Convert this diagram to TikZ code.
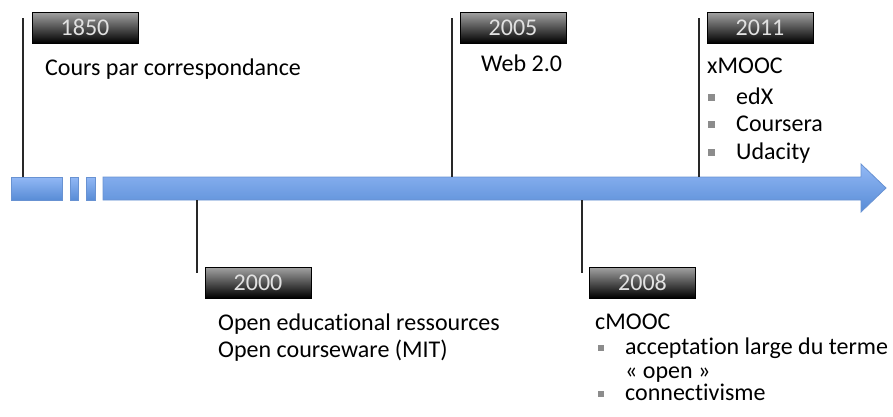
\documentclass[tikz,border=0pt]{standalone}
\usepackage{fontspec}
\setmainfont[Ligatures=NoCommon]{Carlito}
\definecolor{bartop}{RGB}{146,184,245}
\definecolor{barbot}{RGB}{88,140,214}
\definecolor{barline}{RGB}{104,146,210}
\definecolor{yeartxt}{RGB}{225,225,225}
\definecolor{bulletgray}{RGB}{140,140,140}
\definecolor{tickline}{RGB}{40,40,40}
\tikzset{
  yearbox/.style={draw=black, line width=0.8pt, top color=black!36, bottom color=black,
    minimum width=106pt, minimum height=31pt, inner sep=0pt,
    text=yeartxt, font=\fontsize{24}{28}\selectfont},
  bigtxt/.style={anchor=base west, inner sep=0pt, font=\fontsize{24}{28}\selectfont},
  smalltxt/.style={anchor=base west, inner sep=0pt, font=\fontsize{24}{28}\selectfont},
  bulletsq/.style={fill=bulletgray, minimum size=6.5pt, inner sep=0pt},
  tick/.style={draw=tickline, line width=1.2pt},
  barseg/.style={top color=bartop, bottom color=barbot, draw=barline, line width=0.8pt}
}
\begin{document}
\begin{tikzpicture}[x=1pt,y=-1pt]
\useasboundingbox (0,0) rectangle (893,416);
% timeline bar
\path[barseg] (11,177) rectangle (62,200);
\path[barseg] (70,177) rectangle (78,200);
\path[barseg] (86,177) rectangle (95,200);
\path[barseg] (103,177) -- (861,177) -- (861,164) -- (886,188) -- (861,212) -- (861,200) -- (103,200) -- cycle;
% anchor coordinates on the bar
\coordinate (b1850) at (23,177);
\coordinate (b2000) at (197,200);
\coordinate (b2005) at (452,177);
\coordinate (b2008) at (582,200);
\coordinate (b2011) at (699,177);
\coordinate (t1850) at (23,18);
\coordinate (t2005) at (452,18);
\coordinate (t2011) at (699,18);
\coordinate (t2000) at (197,273);
\coordinate (t2008) at (582,273);
\draw[tick] (t1850) -- (b1850);
\draw[tick] (t2005) -- (b2005);
\draw[tick] (t2011) -- (b2011);
\draw[tick] (b2000) -- (t2000);
\draw[tick] (b2008) -- (t2008);
% year boxes
\node[yearbox] (y1850) at (85,27.5) {1850};
\node[yearbox] (y2005) at (513,27.5) {2005};
\node[yearbox] (y2011) at (760,27.5) {2011};
\node[yearbox] (y2000) at (258,282.5) {2000};
\node[yearbox] (y2008) at (642.5,282.5) {2008};
% texts
\node[bigtxt] (cours) at (45,75) {Cours par correspondance};
\node[bigtxt] (web) at (481,71) {Web 2.0};
\node[smalltxt] (xmooc) at (707,73) {xMOOC};
\node[bulletsq] (bx1) at (711.5,97.5) {};
\node[smalltxt] (edx) at (736,104) {edX};
\node[bulletsq] (bx2) at (711.5,124.5) {};
\node[smalltxt] (coursera) at (736,131) {Coursera};
\node[bulletsq] (bx3) at (711.5,152.5) {};
\node[smalltxt] (udacity) at (736,159) {Udacity};
\node[bigtxt] (oer) at (218,330) {Open educational ressources};
\node[bigtxt] (ocw) at (218,357) {Open courseware (MIT)};
\node[smalltxt] (cmooc) at (595,329) {cMOOC};
\node[bulletsq] (bc1) at (601,348) {};
\node[smalltxt] (accept) at (625,354) {acceptation large du terme};
\node[smalltxt] (open) at (625,378) {« open »};
\node[bulletsq] (bc2) at (601,394) {};
\node[smalltxt] (connect) at (625,400) {connectivisme};
\end{tikzpicture}
\end{document}
